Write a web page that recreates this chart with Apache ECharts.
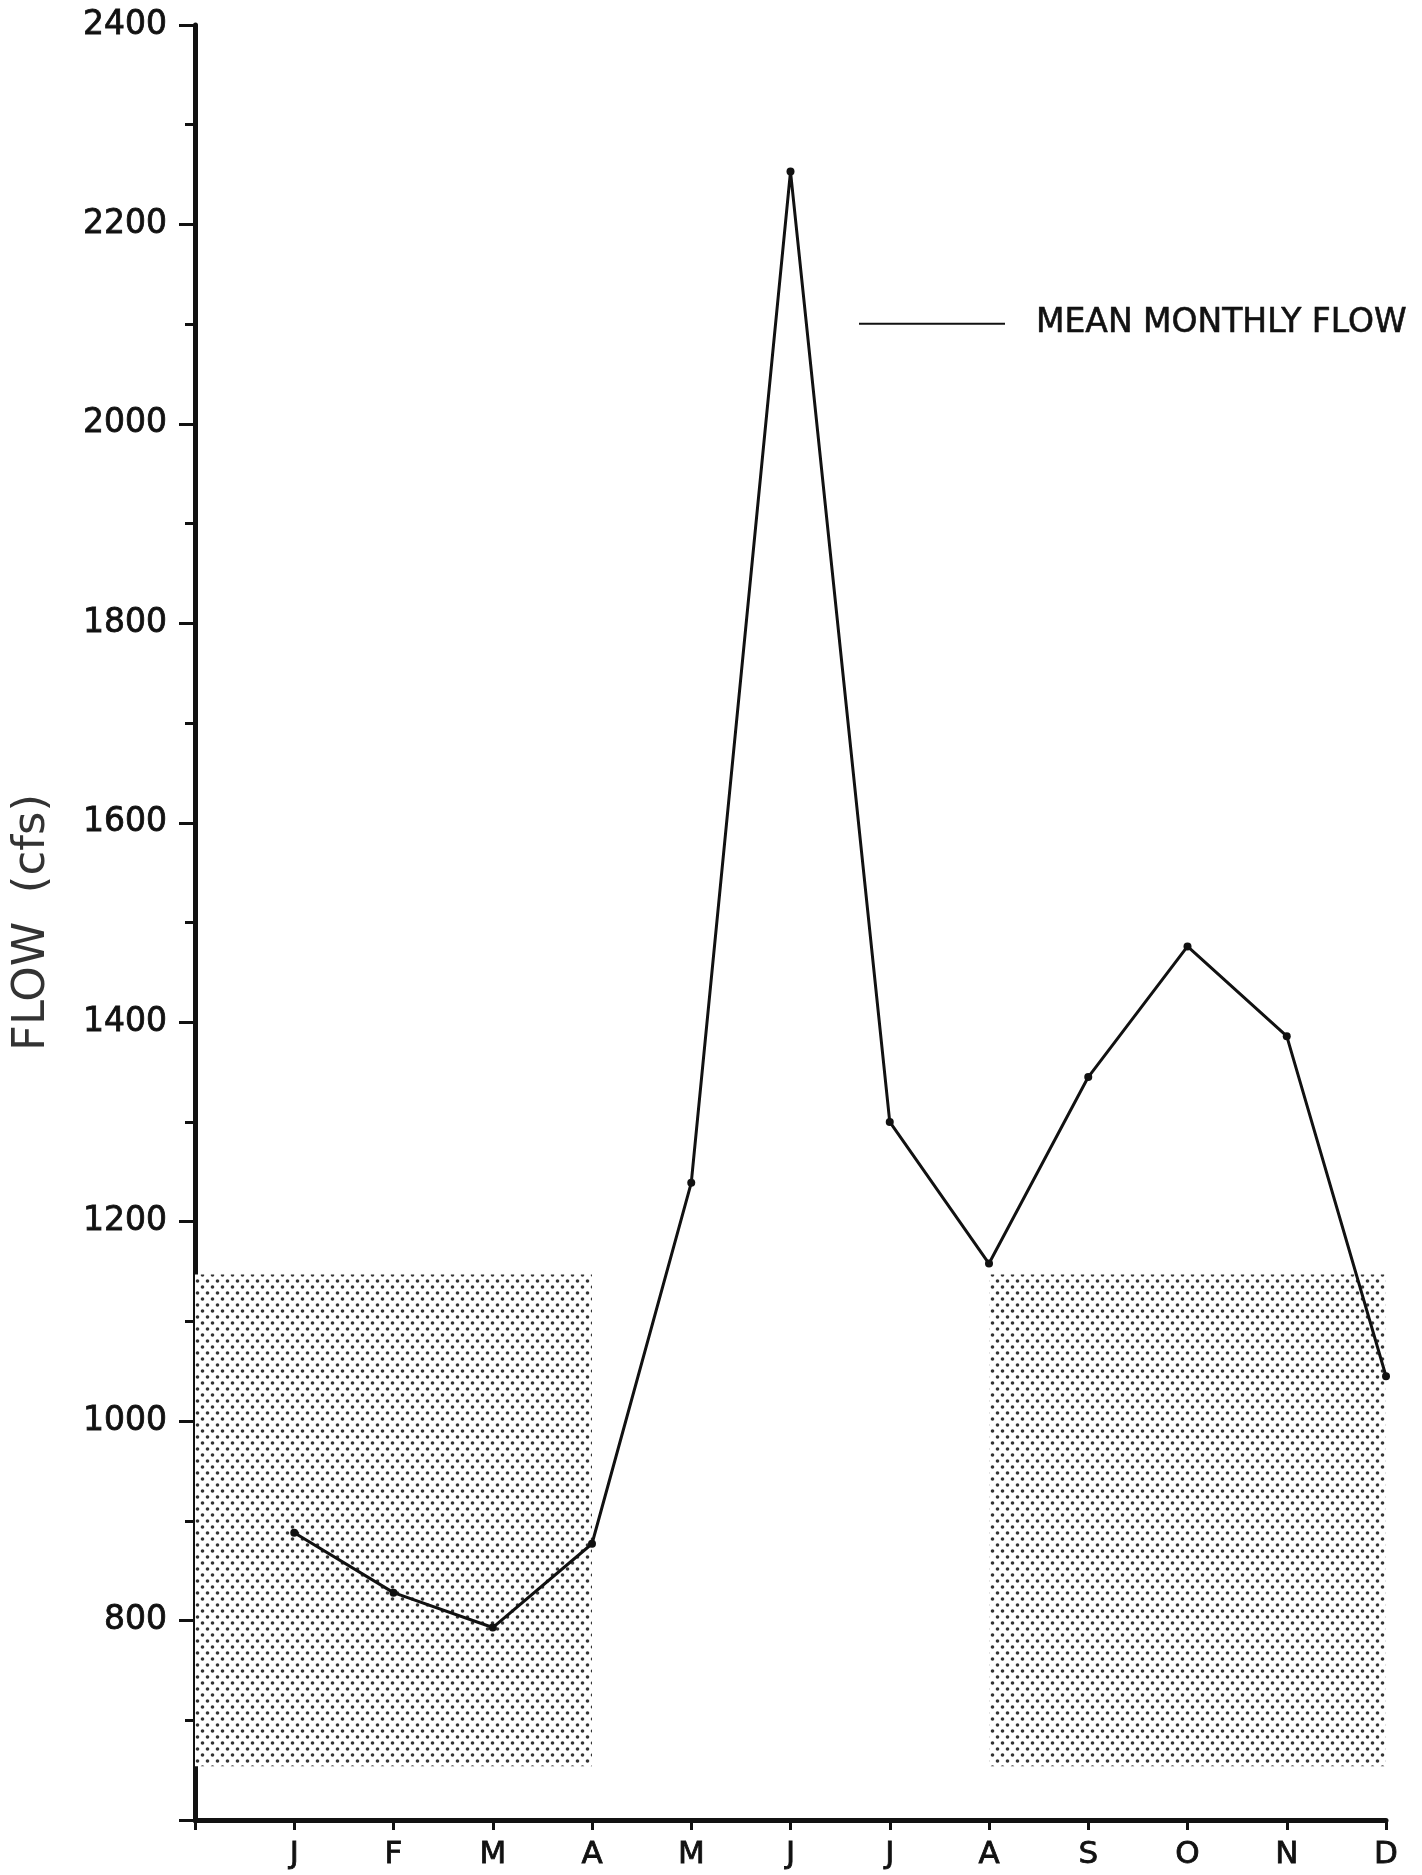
<!DOCTYPE html>
<html><head><meta charset="utf-8">
<script src="https://cdn.jsdelivr.net/npm/echarts@6/dist/echarts.min.js"></script>
<style>html,body{margin:0;padding:0;background:#fff}#c{width:1422px;height:1875px}</style>
</head><body><div id="c"></div>
<script>
// ---- data ----
const monthLabels = ['J','F','M','A','M','J','J','A','S','O','N','D'];
const monthPos = [1,2,3,4,5,6,7,8,9,10,11,12];
const meanFlow = [888, 828, 793, 877, 1239, 2253, 1300, 1158, 1345, 1476, 1386, 1045];
const yMin = 600, yMax = 2400, yStep = 200;
const shadeRanges = [[0, 4], [8, 12]];
const shadeLow = 654, shadeHigh = 1147;
const seriesName = 'MEAN MONTHLY FLOW';
const yName = 'FLOW  (cfs)';

// ---- dotted halftone pattern ----
function dotPattern() {
  const c = document.createElement('canvas');
  c.width = 10; c.height = 12;
  const g = c.getContext('2d');
  g.fillStyle = '#fff'; g.fillRect(0, 0, 10, 12);
  g.fillStyle = '#333';
  [[2.5, 3], [7.5, 9]].forEach(([x, y]) => { g.beginPath(); g.arc(x, y, 1.8, 0, Math.PI * 2); g.fill(); });
  return c;
}

const font = '"DejaVu Sans", sans-serif';
const ink = '#111';
const chart = echarts.init(document.getElementById('c'));
chart.setOption({
  animation: false,
  backgroundColor: '#fff',
  grid: { left: 195, right: 36, top: 25, bottom: 55, outerBoundsMode: 'none', containLabel: false },
  legend: {
    data: [seriesName], left: 854, top: 302,
    icon: 'rect', itemWidth: 146, itemHeight: 2,
    textStyle: { fontFamily: font, fontSize: 33, color: ink, padding: [0, 0, 0, 26],
                 textBorderColor: ink, textBorderWidth: 0.6 }
  },
  xAxis: {
    type: 'value', min: 0, max: 12, interval: 1,
    axisLine: { lineStyle: { color: ink, width: 5 } },
    axisTick: { length: 10, lineStyle: { color: ink, width: 3 } },
    splitLine: { show: false },
    axisLabel: {
      margin: 19, fontFamily: font, fontSize: 31, color: ink,
      textBorderColor: ink, textBorderWidth: 0.8,
      formatter: v => (v >= 1 && v <= 12) ? monthLabels[v - 1] : ''
    }
  },
  yAxis: {
    type: 'value', min: yMin, max: yMax, interval: yStep,
    name: yName, nameLocation: 'middle', nameGap: 140,
    nameTextStyle: { fontFamily: font, fontSize: 45, color: '#333' },
    axisLine: { lineStyle: { color: ink, width: 5 } },
    axisTick: { length: 16, lineStyle: { color: ink, width: 3 } },
    minorTick: { show: true, splitNumber: 2, length: 10, lineStyle: { color: ink, width: 3 } },
    splitLine: { show: false },
    axisLabel: {
      margin: 28, fontFamily: font, fontSize: 33, color: ink,
      textBorderColor: ink, textBorderWidth: 0.8,
      formatter: v => v === yMin ? '' : String(v)
    }
  },
  series: [{
    name: seriesName, type: 'line',
    data: monthPos.map((m, i) => [m, meanFlow[i]]),
    color: ink,
    lineStyle: { color: ink, width: 3 },
    symbol: 'circle', symbolSize: 8, showSymbol: true,
    itemStyle: { color: ink },
    markArea: {
      silent: true,
      itemStyle: { color: { image: dotPattern(), repeat: 'repeat' }, opacity: 1 },
      data: shadeRanges.map(r => [{ xAxis: r[0], yAxis: shadeLow }, { xAxis: r[1], yAxis: shadeHigh }])
    }
  }]
});
</script></body></html>
